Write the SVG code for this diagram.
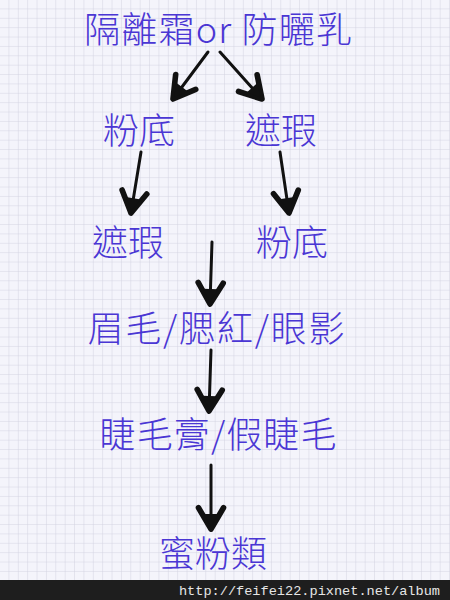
<svg xmlns="http://www.w3.org/2000/svg" width="450" height="600" viewBox="0 0 450 600">
<defs>
<pattern id="grid" width="9.375" height="9.375" patternUnits="userSpaceOnUse">
<rect width="9.375" height="9.375" fill="#f4f4fb"/>
<path d="M9.375 0V9.375M0 9.375H9.375" stroke="#d3d3e2" stroke-width="1" fill="none"/>
</pattern>
<marker id="ah" markerUnits="userSpaceOnUse" markerWidth="40" markerHeight="40" refX="0" refY="0" viewBox="-24 -16 30 32" orient="auto" overflow="visible">
<path d="M-17,-10 L0,0 L-17,10" fill="none" stroke="#111" stroke-width="4.5" stroke-linecap="round" stroke-linejoin="round"/>
<path d="M-12,-6 L-2,0 L-12,6 Z" fill="#111"/>
</marker>
<style>
.t{font-family:"Noto Sans CJK TC","Noto Sans CJK SC",sans-serif;font-size:36px;fill:#4a36d4;text-anchor:middle;font-weight:300}
.a{fill:none;stroke:#111;stroke-width:3;stroke-linecap:round;marker-end:url(#ah)}
.w{font-family:"Liberation Mono",monospace;font-size:13.6px;fill:#e6e6e6;text-anchor:end}
</style>
</defs>
<rect width="450" height="600" fill="url(#grid)"/>
<g id="connectors">
<path class="a" d="M208,52 L173,99"/>
<path class="a" d="M220,52 L262,99"/>
<path class="a" d="M141,152 L131,213"/>
<path class="a" d="M280,152 L289,213"/>
<path class="a" d="M212,242 L210,304"/>
<path class="a" d="M211,350 L209,411"/>
<path class="a" d="M211,465 L211,529"/>
</g>
<g id="n-top"><text class="t" x="218" y="43" textLength="268" lengthAdjust="spacing">隔離霜or 防曬乳</text></g>
<g id="n-l1"><text class="t" x="139" y="144">粉底</text></g>
<g id="n-r1"><text class="t" x="281" y="144">遮瑕</text></g>
<g id="n-l2"><text class="t" x="128" y="256">遮瑕</text></g>
<g id="n-r2"><text class="t" x="292" y="256">粉底</text></g>
<g id="n-brow"><text class="t" x="216" y="342" textLength="257" lengthAdjust="spacing">眉毛/腮紅/眼影</text></g>
<g id="n-lash"><text class="t" x="218" y="448" textLength="237" lengthAdjust="spacing">睫毛膏/假睫毛</text></g>
<g id="n-powder"><text class="t" x="213" y="567">蜜粉類</text></g>
<rect x="0" y="580" width="450" height="20" fill="#1e1e1e"/>
<text class="w" x="440" y="595">http://feifei22.pixnet.net/album</text>
</svg>
